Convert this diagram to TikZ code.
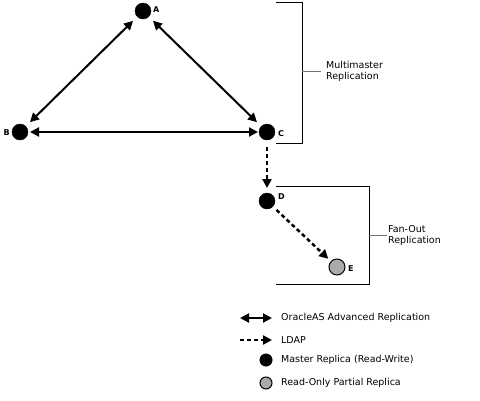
\documentclass[tikz,border=0pt]{standalone}
\usepackage{fontspec}
\setmainfont{DejaVu Sans}
\usetikzlibrary{arrows.meta}
\begin{document}
\begin{tikzpicture}[x=1pt,y=-1pt,
  master/.style={circle,fill=black,draw=black,inner sep=0pt,minimum size=16pt,outer sep=0pt},
  partial/.style={circle,fill=black!33,draw=black,line width=1pt,inner sep=0pt,minimum size=16pt,outer sep=0pt},
  lmaster/.style={circle,fill=black,draw=black,inner sep=0pt,minimum size=12.5pt},
  lpartial/.style={circle,fill=black!33,draw=black,line width=1pt,inner sep=0pt,minimum size=12pt},
  lbl/.style={font=\fontsize{8}{9}\selectfont\bfseries,inner sep=0pt},
  txt/.style={font=\fontsize{9.5}{11}\selectfont,inner sep=0pt,anchor=west,align=left},
  adv/.style={line width=2pt,{Triangle[length=9pt,width=9pt]}-{Triangle[length=9pt,width=9pt]}},
  ldap/.style={line width=2.5pt,dash pattern=on 4pt off 3pt,-{Triangle[length=9pt,width=9pt]}},
  brk/.style={line width=0.8pt,black},
  tick/.style={line width=0.8pt,black!55}]
\useasboundingbox (0,0) rectangle (480,400);
% nodes
\node[master] (A) at (143,11) {};
\node[master] (B) at (20,132) {};
\node[master] (C) at (267,132) {};
\node[master] (D) at (267,201) {};
\node[partial] (E) at (337,267) {};
\node[lbl,anchor=west] (la) at (153,10) {A};
\node[lbl,anchor=east] (lb) at (10,133) {B};
\node[lbl,anchor=west] (lc) at (278,134) {C};
\node[lbl,anchor=west] (ld) at (278,197) {D};
\node[lbl,anchor=west] (le) at (348,269) {E};
% connectors
\draw[adv,shorten <=6pt,shorten >=6pt] (A) -- (B);
\draw[adv,shorten <=6pt,shorten >=6pt] (A) -- (C);
\draw[adv,shorten <=2pt,shorten >=1pt] (B) -- (C);
\draw[ldap,shorten <=7pt,shorten >=5pt] (C) -- (D);
\draw[ldap,shorten <=5pt,shorten >=4pt] (D) -- (E);
% brackets
\coordinate (m1) at (276,2);
\coordinate (m2) at (302,2);
\coordinate (m3) at (302,143);
\coordinate (m4) at (276,143);
\coordinate (mt) at (302,71);
\draw[brk] (m1) -- (m2) -- (m3) -- (m4);
\node[txt] (mm) at (326,71) {Multimaster\\Replication};
\draw[tick] (mt) -- (mm.west -| 321,0);
\coordinate (f1) at (276,186);
\coordinate (f2) at (369,186);
\coordinate (f3) at (369,284);
\coordinate (f4) at (276,284);
\coordinate (ft) at (369,235);
\draw[brk] (f1) -- (f2) -- (f3) -- (f4);
\node[txt] (fo) at (388,235) {Fan-Out\\Replication};
\draw[tick] (ft) -- (387,235);
% legend
\coordinate (l1a) at (240,318);
\coordinate (l1b) at (272,318);
\draw[adv] (l1a) -- (l1b);
\node[txt] (t1) at (281,318) {OracleAS Advanced Replication};
\coordinate (l2a) at (240,340);
\coordinate (l2b) at (272,340);
\draw[ldap] (l2a) -- (l2b);
\node[txt] (t2) at (281,340) {LDAP};
\node[lmaster] (l3) at (266,360) {};
\node[txt] (t3) at (281,360) {Master Replica (Read-Write)};
\node[lpartial] (l4) at (266,383) {};
\node[txt] (t4) at (281,383) {Read-Only Partial Replica};
\end{tikzpicture}
\end{document}
